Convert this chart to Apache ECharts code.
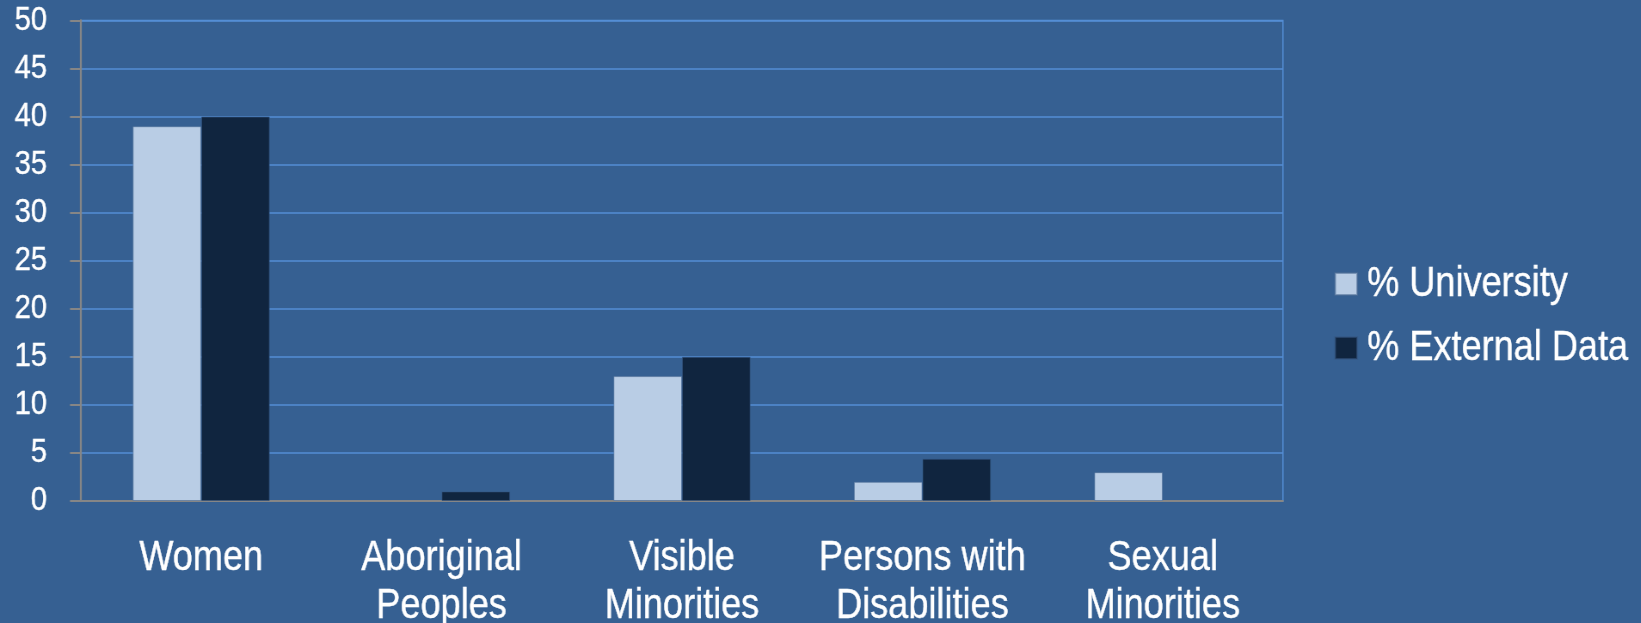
<!DOCTYPE html>
<html>
<head>
<meta charset="utf-8">
<script src="https://cdn.jsdelivr.net/npm/echarts@6/dist/echarts.min.js"></script>
<style>
html,body{margin:0;padding:0;background:#366092;overflow:hidden;width:1641px;height:623px;}
#c{width:1908px;height:623px;transform:scaleX(0.86);transform-origin:0 0;}
</style>
</head>
<body>
<div id="c"></div>
<script>
var categories = ['Women', 'Aboriginal\nPeoples', 'Visible\nMinorities', 'Persons with\nDisabilities', 'Sexual\nMinorities'];
var seriesNames = ['% University', '% External Data'];
var universityValues = [39, null, 13, 2, 3];
var externalValues = [40, 1, 15, 4.4, null];
var yTicks = {min: 0, max: 50, interval: 5};

// Arial-Narrow look: Liberation Sans rendered with a horizontal squeeze of 0.86
var FONT = "'Liberation Sans', Arial, sans-serif";
var chart = echarts.init(document.getElementById('c'));
chart.setOption({
  backgroundColor: '#366092',
  animation: false,
  textStyle: {fontFamily: FONT},
  grid: {
    left: 94.2, right: 416.2, top: 20.5, bottom: 122,
    show: true, borderColor: '#558ed5', borderWidth: 1.5,
    backgroundColor: 'transparent', containLabel: false,
    outerBoundsMode: 'none'
  },
  legend: {
    orient: 'vertical',
    left: 1546.5, top: 255,
    itemWidth: 25.6, itemHeight: 22, itemGap: 16,
    icon: 'rect',
    data: seriesNames,
    textStyle: {color: '#ffffff', fontSize: 42, lineHeight: 48, fontFamily: FONT, padding: [0, 0, 0, 6.6],
      textBorderColor: '#ffffff', textBorderWidth: 0.4}
  },
  xAxis: {
    type: 'category',
    data: categories,
    axisLine: {show: true, lineStyle: {color: '#868686', width: 2}},
    axisTick: {show: false},
    splitLine: {show: false},
    axisLabel: {
      interval: 0, color: '#ffffff', fontSize: 42, lineHeight: 48,
      margin: 33, fontFamily: FONT, textBorderColor: '#ffffff', textBorderWidth: 0.4
    }
  },
  yAxis: {
    type: 'value',
    min: yTicks.min, max: yTicks.max, interval: yTicks.interval,
    axisLine: {show: true, lineStyle: {color: '#868686', width: 2.3}},
    axisTick: {show: true, length: 12.8, lineStyle: {color: '#868686', width: 2}},
    splitLine: {show: true, lineStyle: {color: '#558ed5', width: 1.5}},
    axisLabel: {color: '#ffffff', fontSize: 34, margin: 39.5, fontFamily: FONT,
      textBorderColor: '#ffffff', textBorderWidth: 0.4}
  },
  series: [
    {
      name: seriesNames[0], type: 'bar', data: universityValues,
      barGap: '0%', barCategoryGap: '43%',
      itemStyle: {color: '#b9cde5', borderColor: 'rgba(79,110,150,0.6)', borderWidth: 1}
    },
    {
      name: seriesNames[1], type: 'bar', data: externalValues,
      barGap: '0%', barCategoryGap: '43%',
      itemStyle: {color: '#10253f', borderColor: 'rgba(54,86,130,0.6)', borderWidth: 1}
    }
  ]
});
</script>
</body>
</html>
